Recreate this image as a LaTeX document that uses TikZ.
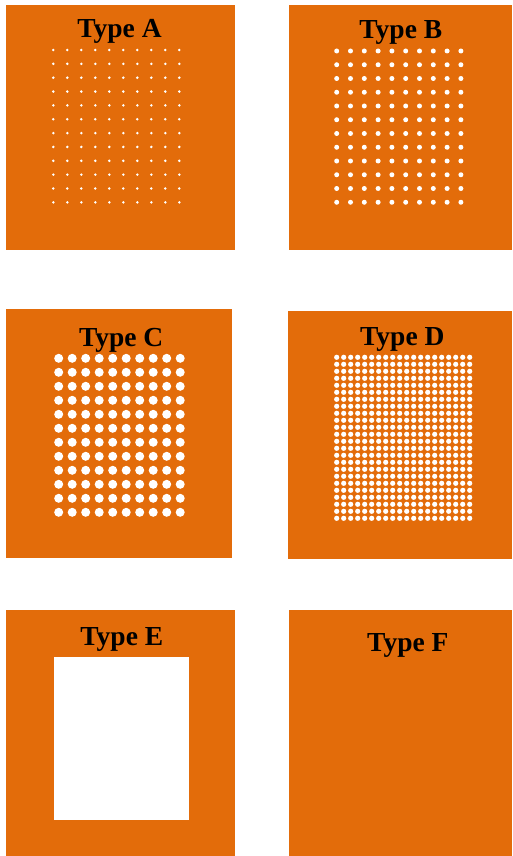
\documentclass[tikz,border=0pt]{standalone}
\usepackage{fontspec}
\setmainfont{Liberation Serif}
\usepackage{tikz}
\usetikzlibrary{positioning}
\definecolor{plateOrange}{RGB}{227, 108, 10}
\definecolor{holeWhite}{RGB}{255, 255, 255}
\tikzset{
  plate/.style={
    fill=plateOrange,
    draw=none
  },
  hole/.style={
    fill=holeWhite,
    draw=none
  },
  plate title/.style={
    anchor=base,
    inner sep=0pt,
    font=\fontsize{27.5}{30}\selectfont\bfseries,
    text=black
  }
}

\begin{document}
\begin{tikzpicture}[x=1pt, y=-1pt]
      \useasboundingbox (0, 0) rectangle (512, 856);

      % Type A
      \fill[plate] (6, 5) rectangle (235, 250);
      \node[plate title] (titleA) at (119.5, 37.5) {Type A};
      \foreach \i in {0,...,9}
        \foreach \j in {0,...,11}
          \fill[hole] (53.3 + 14*\i, 50 + 13.85*\j) circle (1.4);

      % Type B
      \fill[plate] (289, 5) rectangle (512, 250);
      \node[plate title] (titleB) at (400.8, 39) {Type B};
      \foreach \i in {0,...,9}
        \foreach \j in {0,...,11}
          \fill[hole] (336.7 + 13.8*\i, 51 + 13.75*\j) circle (2.5);

      % Type C
      \fill[plate] (6, 309) rectangle (232, 558);
      \node[plate title] (titleC) at (121.2, 346) {Type C};
      \foreach \i in {0,...,9}
        \foreach \j in {0,...,11}
          \fill[hole] (58.7 + 13.5*\i, 358.3 + 14*\j) circle (4.5);

      % Type D
      \fill[plate] (288, 311) rectangle (512, 559);
      \node[plate title] (titleD) at (402.3, 345.7) {Type D};
      \foreach \i in {0,...,19}
        \foreach \j in {0,...,23}
          \fill[hole] (336.7 + 7*\i, 357.3 + 7*\j) circle (2.6);

      % Type E
      \fill[plate] (6, 610) rectangle (235, 856);
      \node[plate title] (titleE) at (121.8, 645.7) {Type E};
      \fill[hole] (53.7, 657.3) rectangle (189, 820);

      % Type F
      \fill[plate] (289, 610) rectangle (512, 856);
      \node[plate title] (titleF) at (407.8, 651.7) {Type F};
    \end{tikzpicture}
\end{document}
